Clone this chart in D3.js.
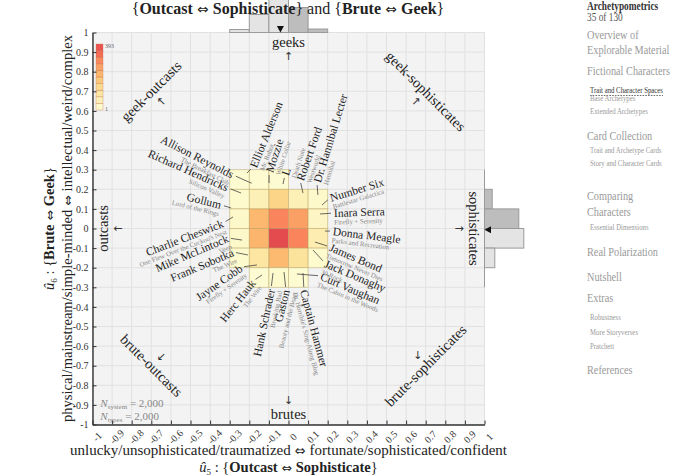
<!DOCTYPE html>
<html><head><meta charset="utf-8">
<script src="https://cdn.jsdelivr.net/npm/d3@7"></script>
<style>body{margin:0;background:#fff}svg{display:block}</style>
</head><body><svg id="c" width="675" height="476"></svg>
<script>
// ---------- data ----------
const xEdges = [-0.3,-0.2,-0.1,0,0.1,0.2];
const yEdges = [0.3,0.2,0.1,0,-0.1,-0.2,-0.3];
const counts = [
  [8,12,10,0,0],
  [15,60,150,60,20],
  [25,215,300,260,35],
  [25,220,393,300,70],
  [15,100,210,110,15],
  [0,10,15,10,0]
];
const topHist = [65,393,917,546,76];          // u5 marginal, per x bin
const rightHist = [0,168,749,858,225,0];      // u6 marginal, per y bin
const tickVals = d3.range(-10,11).map(i=>i/10);
const names = ["Allison Reynolds","Richard Hendricks","Gollum","Charlie Cheswick","Mike McLintock","Frank Sobotka","Jayne Cobb","Herc Hauk","Hank Schrader","Gaston","Captain Hammer","Curt Vaughan","Jack Donaghy","James Bond","Donna Meagle","Inara Serra","Number Six","Dr. Hannibal Lecter","Robert Ford","L","Mozzie","Elliot Alderson"];
const stories = ["The Breakfast Club","Silicon Valley","Lord of the Rings","One Flew Over the Cuckoo's Nest","Veep","The Wire","Firefly + Serenity","The Wire","Breaking Bad","Beauty and the Beast","Dr. Horrible's Sing-Along Blog","The Cabin in the Woods","30 Rock","Tomorrow Never Dies","Parks and Recreation","Firefly + Serenity","Battlestar Galactica","Hannibal","Westworld","Death Note","White Collar","Mr. Robot"];
const charX = [-0.188,-0.242,-0.293,-0.283,-0.237,-0.207,-0.161,-0.135,-0.079,-0.023,0.074,0.043,0.125,0.135,0.186,0.161,0.171,0.150,0.074,-0.028,-0.099,-0.212];
const charY = [0.231,0.181,0.105,0.059,-0.059,-0.135,-0.186,-0.237,-0.227,-0.222,-0.227,-0.232,-0.110,-0.069,-0.013,0.074,0.120,0.171,0.181,0.227,0.232,0.283];
const labX = [-0.283,-0.309,-0.344,-0.334,-0.309,-0.283,-0.242,-0.181,-0.089,-0.013,0.079,0.166,0.186,0.212,0.227,0.232,0.212,0.145,0.059,-0.018,-0.099,-0.181];
const labY = [0.273,0.207,0.120,0.028,-0.048,-0.120,-0.197,-0.268,-0.309,-0.314,-0.314,-0.242,-0.176,-0.094,-0.013,0.079,0.156,0.237,0.247,0.273,0.288,0.314];
const labRot = [27,24,14,-21,-23,-23,-35,-52,-78,-76,75,23,23,23,7,-2,-17,-73,-71,-72,-72,-68];
const labSide = ["end","end","end","end","end","end","end","end","end","end","start","start","start","start","start","start","start","start","start","start","start","start"];
const corners = ["geek-outcasts","geek-sophisticates","brute-outcasts","brute-sophisticates"];
const edges = ["geeks","brutes","outcasts","sophisticates"];
const nSystem = "2,000", nTypes = "2,000";
const menu = [
  ["Archetypometrics","h"],["35 of 130","p"],["Overview of","b"],["Explorable Material","b"],
  ["Fictional Characters","b"],["Trait and Character Spaces","a"],["Base Archetypes","s"],["Extended Archetypes","s"],
  ["Card Collection","b"],["Trait and Archetype Cards","s"],["Story and Character Cards","s"],
  ["Comparing","b"],["Characters","b"],["Essential Dimensions","s"],["Real Polarization","b"],["Nutshell","b"],
  ["Extras","b"],["Robustness","s"],["More Storyverses","s"],["Pratchett","s"],["References","b"]
];
const menuY = [10,21.5,39,54.5,75.5,93,101.5,114.5,140,153.5,166,200.5,216,230,256,281,302.5,320,335,349,374.5];

// ---------- setup ----------
const F = "'Liberation Serif','Times New Roman',serif";
const ARW = "'DejaVu Sans'";
const svg = d3.select("#c").style("font-family",F);
const x = d3.scaleLinear().domain([-1,1]).range([92.5,484.5]);
const y = d3.scaleLinear().domain([-1,1]).range([424.5,32.5]);

// background + grid
svg.append("rect").attr("x",x(-1)).attr("y",y(1)).attr("width",x(1)-x(-1)).attr("height",y(-1)-y(1)).attr("fill","#f3f3f3");
const grid = svg.append("g").attr("stroke","#e1e1e1").attr("stroke-width",1);
grid.selectAll(".gx").data(tickVals).join("line").attr("x1",d=>x(d)).attr("x2",d=>x(d)).attr("y1",y(1)).attr("y2",y(-1));
grid.selectAll(".gy").data(tickVals).join("line").attr("y1",d=>y(d)).attr("y2",d=>y(d)).attr("x1",x(-1)).attr("x2",x(1));

// heatmap
const vmax = d3.max(counts.flat());
const cmap = t => d3.interpolateYlOrRd(t*0.76);
const cells = [];
counts.forEach((row,r)=>row.forEach((v,c)=>{ if(v>0) cells.push({r,c,v}); }));
svg.append("g").selectAll("rect").data(cells).join("rect")
  .attr("x",d=>x(xEdges[d.c])).attr("y",d=>y(yEdges[d.r]))
  .attr("width",d=>x(xEdges[d.c+1])-x(xEdges[d.c])).attr("height",d=>y(yEdges[d.r+1])-y(yEdges[d.r]))
  .attr("fill",d=>cmap((d.v-1)/(vmax-1))).attr("fill-opacity",0.78)
  .attr("stroke","#b9a46a").attr("stroke-opacity",0.55).attr("stroke-width",0.8);

// colorbar
const cb = svg.append("g");
const cbY = d3.scaleLinear().domain([0,10]).range([110,44]);
cb.selectAll("rect").data(d3.range(10)).join("rect")
  .attr("x",96).attr("width",7).attr("y",i=>cbY(i+1)).attr("height",i=>cbY(i)-cbY(i+1))
  .attr("fill",i=>cmap((i+0.5)/10)).attr("fill-opacity",0.78).attr("stroke","#c07050").attr("stroke-opacity",0.5).attr("stroke-width",0.6);
cb.append("text").attr("x",105).attr("y",cbY(10)+4).attr("font-size",6).attr("fill","#666").text(vmax);
cb.append("text").attr("x",105).attr("y",cbY(0)+1).attr("font-size",6).attr("fill","#666").text(1);

// corner + edge labels
const cornerPos = [[-0.7,0.7,-45],[0.7,0.7,45],[-0.7,-0.7,45],[0.7,-0.7,-45]];
const cornerArrow = [[-0.65,0.65,"↖"],[0.65,0.65,"↗"],[-0.65,-0.65,"↙"],[0.66,-0.645,"↓"]];
corners.forEach((t,i)=>{
  const [cx,cy,r]=cornerPos[i];
  svg.append("text").attr("transform",`translate(${x(cx)},${y(cy)}) rotate(${r})`).attr("text-anchor","middle").attr("dy","0.33em").attr("font-size",14.5).attr("fill","#222").text(t);
  const a = cornerArrow[i];
  svg.append("text").attr("x",x(a[0])).attr("y",y(a[1])).attr("text-anchor","middle").attr("dy","0.35em").attr("font-size",11).attr("font-family",ARW).attr("fill","#333").text(a[2]);
});
const edgePos = [[0,0.95,0,"↑",0,0.88],[0,-0.95,0,"↓",0,-0.875],[-0.946,0,-90,"←",-0.87,0],[0.946,0,90,"→",0.87,0]];
edges.forEach((t,i)=>{
  const e=edgePos[i];
  svg.append("text").attr("transform",`translate(${x(e[0])},${y(e[1])}) rotate(${e[2]})`).attr("text-anchor","middle").attr("dy","0.33em").attr("font-size",14.5).attr("fill","#222").text(t);
  svg.append("text").attr("x",x(e[4])).attr("y",y(e[5])).attr("text-anchor","middle").attr("dy","0.35em").attr("font-size",11).attr("font-family",ARW).attr("fill","#333").text(e[3]);
});

// character annotations
const chars = names.map((n,i)=>({n,s:stories[i],px:charX[i],py:charY[i],tx:labX[i],ty:labY[i],rot:labRot[i],a:labSide[i]}));
svg.append("g").attr("stroke","#444").attr("stroke-width",0.8).selectAll("line").data(chars).join("line")
  .each(function(d){
    const X0=x(d.px),Y0=y(d.py),X1=x(d.tx),Y1=y(d.ty);
    const L=Math.hypot(X1-X0,Y1-Y0), k=(L-3)/L;
    d3.select(this).attr("x1",X0).attr("y1",Y0).attr("x2",X0+(X1-X0)*k).attr("y2",Y0+(Y1-Y0)*k);
  });
const lg = svg.append("g").selectAll("g").data(chars).join("g")
  .attr("transform",d=>`translate(${x(d.tx)},${y(d.ty)}) rotate(${d.rot})`);
lg.append("text").attr("text-anchor",d=>d.a).attr("y",4).attr("font-size",11.5).attr("fill","#222").text(d=>d.n);
lg.append("text").attr("text-anchor",d=>d.a).attr("y",11.5).attr("font-size",6.8).attr("fill","#888").text(d=>d.s);

// N text
const nt = svg.append("g").attr("fill","#888").attr("font-size",11);
[["system",nSystem,y(-0.9)+2],["types",nTypes,y(-0.965)+2]].forEach(([sub,v,yy])=>{
  const t = nt.append("text").attr("x",x(-0.96)).attr("y",yy);
  t.append("tspan").attr("font-style","italic").text("N");
  t.append("tspan").attr("font-size",7).attr("dy",2).text(sub);
  t.append("tspan").attr("dy",-2).text(" = "+v);
});

// axes
const fmt = d => { const v=+d.toFixed(1); return v===0?"0":String(v); };
const ax = svg.append("g").attr("transform",`translate(${x(-1)},0)`)
  .call(d3.axisLeft(y).tickValues(tickVals).tickFormat(fmt).tickSizeInner(-4).tickSizeOuter(0).tickPadding(4));
const bx = svg.append("g").attr("transform",`translate(0,${y(-1)})`)
  .call(d3.axisBottom(x).tickValues(tickVals).tickFormat(fmt).tickSizeInner(-4).tickSizeOuter(0).tickPadding(6));
[ax,bx].forEach(g=>{ g.attr("font-family",F); g.select(".domain").attr("stroke","#333").attr("stroke-width",1.4);
  g.selectAll(".tick line").attr("stroke","#333").attr("stroke-width",1);
  g.selectAll("text").attr("font-family",F).attr("font-size",10).attr("fill","#333"); });
bx.selectAll(".tick text").attr("text-anchor","middle").attr("dy","0.35em").attr("transform","translate(0,8) rotate(-45)");

// marginal histograms
const hs = d3.scaleLinear().domain([0,2000]).range([0,91.6]);
const colC = xEdges.slice(0,-1).map((e,i)=>(e+xEdges[i+1])/2);
const rowC = yEdges.slice(0,-1).map((e,i)=>(e+yEdges[i+1])/2);
const hg = svg.append("g").attr("stroke","#9a9a9a").attr("stroke-width",1);
hg.selectAll(".tb").data(topHist).join("rect")
  .attr("x",(d,i)=>x(xEdges[i])).attr("width",(d,i)=>x(xEdges[i+1])-x(xEdges[i]))
  .attr("y",d=>y(1)-hs(d)).attr("height",d=>hs(d))
  .attr("fill",(d,i)=>colC[i]>0?"#bdbdbd":"#e4e4e4");
hg.selectAll(".rb").data(rightHist).join("rect")
  .attr("y",(d,i)=>y(yEdges[i])).attr("height",(d,i)=>y(yEdges[i+1])-y(yEdges[i]))
  .attr("x",x(1)).attr("width",d=>hs(d))
  .attr("fill",(d,i)=>rowC[i]>0?"#bdbdbd":"#e4e4e4").attr("stroke-opacity",d=>d>0?1:0);
hg.append("line").attr("x1",x(xEdges[0])).attr("x2",x(xEdges[xEdges.length-1])).attr("y1",y(1)).attr("y2",y(1));
hg.append("line").attr("x1",x(1)).attr("x2",x(1)).attr("y1",y(yEdges[0])).attr("y2",y(yEdges[yEdges.length-1]));
const mx = d3.sum(topHist.map((s,i)=>s*colC[i]))/d3.sum(topHist);
const my = d3.sum(rightHist.map((s,i)=>s*rowC[i]))/d3.sum(rightHist);
svg.append("path").attr("d",`M${x(mx)-3.5},${y(1)-6.5}L${x(mx)+3.5},${y(1)-6.5}L${x(mx)},${y(1)}Z`).attr("fill","#111");
svg.append("path").attr("d",`M${x(1)+6.5},${y(my)-3.5}L${x(1)+6.5},${y(my)+3.5}L${x(1)},${y(my)}Z`).attr("fill","#111");

// helper for rich text
function rich(sel, parts){
  parts.forEach(p=>{
    const t = sel.append("tspan").text(p.t);
    if(p.b) t.attr("font-weight","bold");
    if(p.i) t.attr("font-style","italic");
    if(p.a) t.attr("font-family",ARW).attr("font-size","0.85em");
    if(p.dy) t.attr("dy",p.dy);
    if(p.fs) t.attr("font-size",p.fs);
  });
}
// title
const title = svg.append("text").attr("x",288).attr("y",14).attr("text-anchor","middle").attr("font-size",16).attr("fill","#222");
rich(title,[{t:"{"},{t:"Outcast",b:1},{t:" ⇔ ",a:1},{t:"Sophisticate",b:1},{t:"} and {"},{t:"Brute",b:1},{t:" ⇔ ",a:1},{t:"Geek",b:1},{t:"}"}]);

// axis titles
const xt1 = svg.append("text").attr("x",x(0)).attr("y",455).attr("text-anchor","middle").attr("font-size",15).attr("fill","#222");
rich(xt1,[{t:"unlucky/unsophisticated/traumatized"},{t:" ⇔ ",a:1},{t:"fortunate/sophisticated/confident"}]);
const xt2 = svg.append("text").attr("x",x(0)).attr("y",472).attr("text-anchor","middle").attr("font-size",14.5).attr("fill","#222");
rich(xt2,[{t:"û",i:1},{t:"5",fs:9,dy:3},{t:" : {",dy:-3},{t:"Outcast",b:1},{t:" ⇔ ",a:1},{t:"Sophisticate",b:1},{t:"}"}]);
const yt1 = svg.append("text").attr("transform",`translate(72,${y(0)}) rotate(-90)`).attr("text-anchor","middle").attr("font-size",14.6).attr("fill","#222");
rich(yt1,[{t:"physical/mainstream/simple-minded"},{t:" ⇔ ",a:1},{t:"intellectual/weird/complex"}]);
const yt2 = svg.append("text").attr("transform",`translate(54,${y(0)}) rotate(-90)`).attr("text-anchor","middle").attr("font-size",14.5).attr("fill","#222");
rich(yt2,[{t:"û",i:1},{t:"6",fs:9,dy:3},{t:" : {",dy:-3},{t:"Brute",b:1},{t:" ⇔ ",a:1},{t:"Geek",b:1},{t:"}"}]);

// sidebar menu (condensed serif to mimic Garamond)
const mg = svg.append("g").attr("transform","translate(587,0) scale(0.79,1)");
menu.forEach(([t,k],i)=>{
  const st = {h:[0,11.8,"#333","bold"],p:[0,11.8,"#555","normal"],b:[0,13,"#9a9a9a","normal"],a:[3.8,8.6,"#333","normal"],s:[3.8,8.6,"#9a9a9a","normal"]}[k];
  const el = mg.append("text").attr("x",st[0]).attr("y",menuY[i]).attr("font-size",st[1]).attr("fill",st[2]).attr("font-weight",st[3]).text(t);
  if(k==="a"){ const w = el.node().getComputedTextLength();
    mg.append("line").attr("x1",st[0]).attr("x2",st[0]+w).attr("y1",menuY[i]+2.5).attr("y2",menuY[i]+2.5).attr("stroke","#333").attr("stroke-dasharray","2,1.5").attr("stroke-width",0.8); }
});
</script></body></html>
